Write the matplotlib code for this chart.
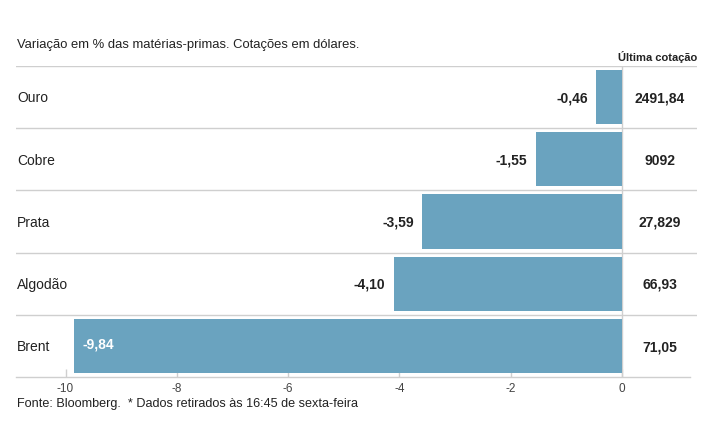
import matplotlib
matplotlib.use("Agg")
import matplotlib.pyplot as plt
from matplotlib import font_manager

names = {f.name for f in font_manager.fontManager.ttflist}
FONT = "Liberation Sans Narrow" if "Liberation Sans Narrow" in names else "Liberation Sans"
plt.rcParams['font.family'] = [FONT, 'DejaVu Sans']

categories = ["Ouro", "Cobre", "Prata", "Algodão", "Brent"]
variation = [-0.46, -1.55, -3.59, -4.10, -9.84]
variation_labels = ["-0,46", "-1,55", "-3,59", "-4,10", "-9,84"]
last_quote = ["2491,84", "9092", "27,829", "66,93", "71,05"]
xticks = [-10, -8, -6, -4, -2, 0]

W, H = 715, 445
fig = plt.figure(figsize=(W / 100, H / 100), dpi=100)
L, R, T, B = 16, 697, 66, 377
ax = fig.add_axes([L / W, 1 - B / H, (R - L) / W, (B - T) / H])

bar_color = "#6aa3bf"
text_color = "#222222"
grid_color = "#cfcfcf"

n = len(categories)
ypos = list(range(n))
ax.barh(ypos, variation, height=0.87, color=bar_color, zorder=2)
ax.set_ylim(n - 0.5, -0.5)
ax.set_xlim(-10.89, 1.347)

for s in ax.spines.values():
    s.set_visible(False)

# row separators
for k in range(n):
    ax.axhline(k - 0.5, color=grid_color, lw=1, zorder=1)
# zero line
ax.axvline(0, color=grid_color, lw=1, zorder=1)
# bottom axis line
ax.plot([0, (690 - L) / (R - L)], [0, 0], transform=ax.transAxes,
        color=grid_color, lw=1, clip_on=False)

ax.set_yticks([])
ax.set_xticks(xticks)
ax.set_xticklabels([str(t) for t in xticks])
ax.tick_params(axis='x', direction='in', length=6, width=1, color=grid_color,
               labelsize=8.5, labelcolor="#444444", pad=4)

for i, (cat, v, lab, q) in enumerate(zip(categories, variation, variation_labels, last_quote)):
    ax.text(-10.89 + (17 - L) / 55.66, i + 0.02, cat, ha='left', va='center',
            fontsize=10, color=text_color)
    if v < -8:
        ax.text(v + 0.15, i - 0.03, lab, ha='left', va='center', fontsize=10,
                fontweight='bold', color='white', zorder=3)
    else:
        ax.text(v - 0.15, i + 0.02, lab, ha='right', va='center', fontsize=10,
                fontweight='bold', color=text_color)
    ax.text(0.68, i + 0.02, q, ha='center', va='center', fontsize=10,
            fontweight='bold', color=text_color)

fig.text(17 / W, 1 - 45 / H, "Variação em % das matérias-primas. Cotações em dólares.",
         ha='left', va='center', fontsize=9.4, color=text_color)
fig.text(697 / W, 1 - 57 / H, "Última cotação", ha='right', va='center',
         fontsize=8, fontweight='bold', color=text_color)
fig.text(17 / W, 1 - 404 / H, "Fonte: Bloomberg.  * Dados retirados às 16:45 de sexta-feira",
         ha='left', va='center', fontsize=9.1, color=text_color)

fig.savefig("out.png", dpi=100, facecolor="white")
